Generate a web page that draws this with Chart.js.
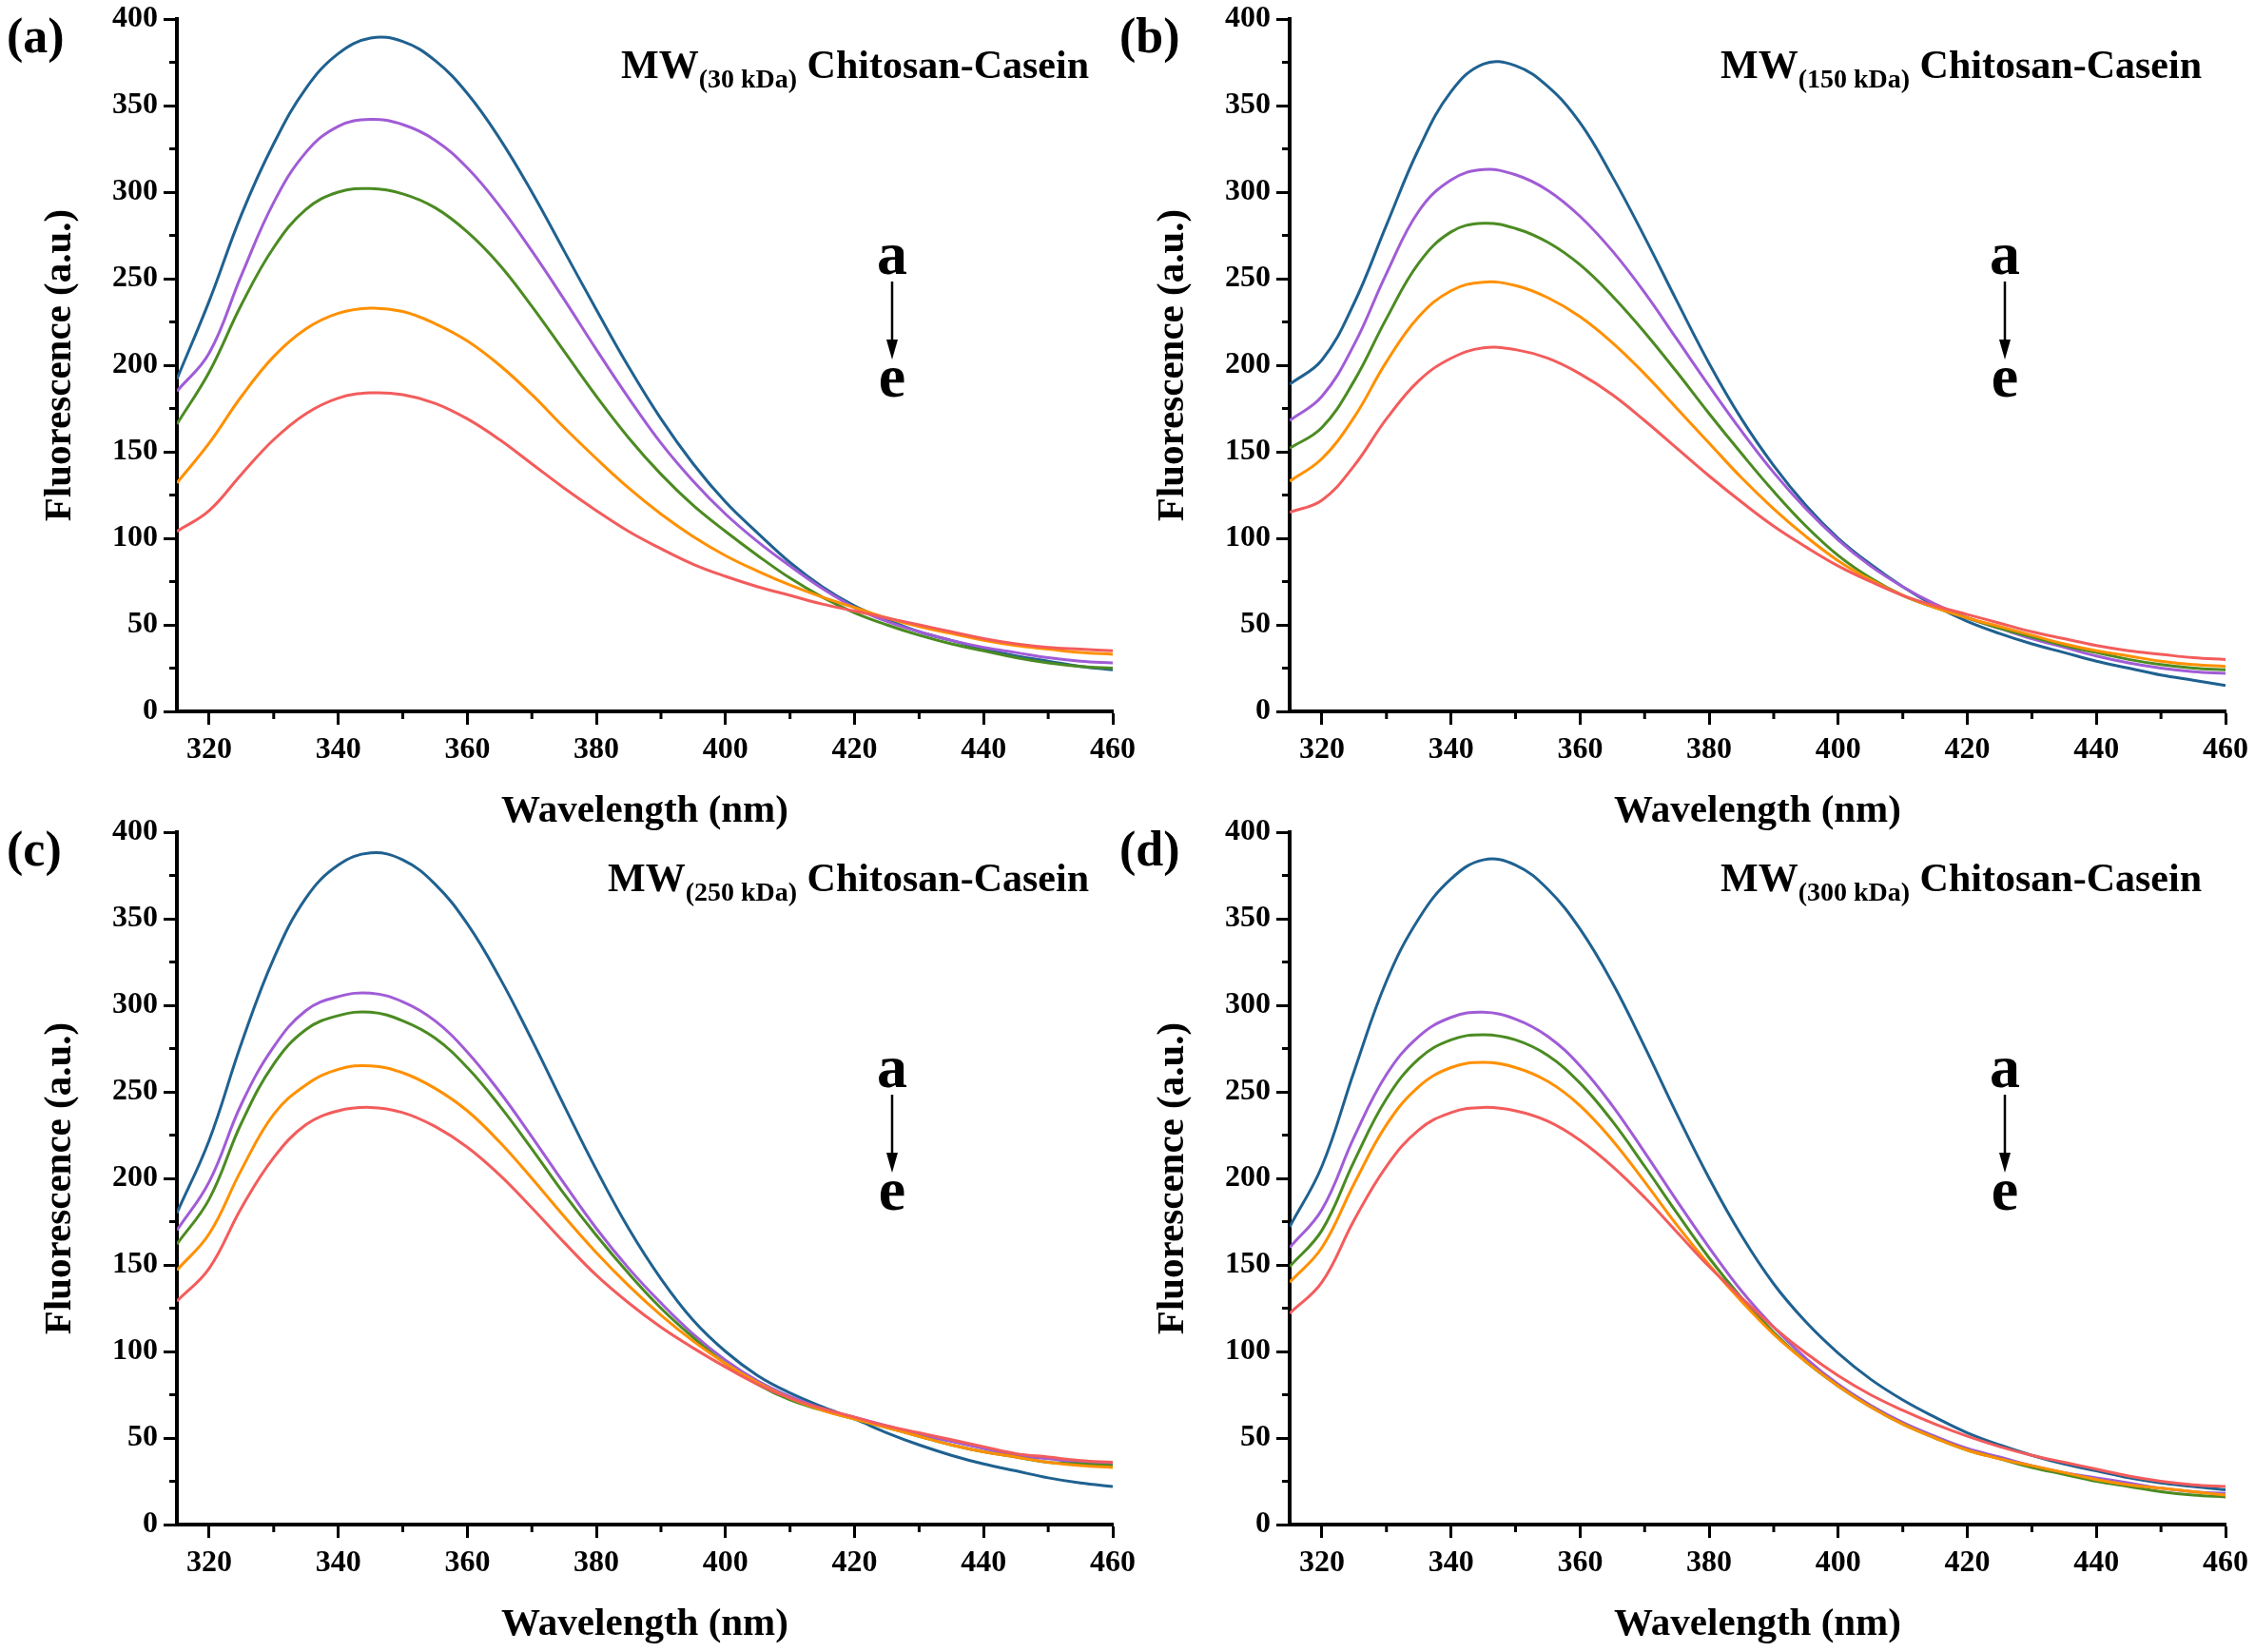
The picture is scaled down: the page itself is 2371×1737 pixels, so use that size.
<!DOCTYPE html>
<html>
<head>
<meta charset="utf-8">
<title>Chitosan-Casein fluorescence</title>
<script src="https://cdn.jsdelivr.net/npm/chart.js@4.4.1/dist/chart.umd.min.js"></script>
<style>
  body { margin: 0; background: #fff; }
  #wrap { position: relative; width: 2371px; height: 1737px; background: #fff; overflow: hidden; }
  .panel { position: absolute; }
</style>
</head>
<body>
<div id="wrap">
  <canvas id="chartA" class="panel" width="1201" height="882" style="left:0;top:0"></canvas>
  <canvas id="chartB" class="panel" width="1201" height="882" style="left:1170px;top:0"></canvas>
  <canvas id="chartC" class="panel" width="1201" height="882" style="left:0;top:855px"></canvas>
  <canvas id="chartD" class="panel" width="1201" height="882" style="left:1170px;top:855px"></canvas>
</div>
<script>
// emission wavelengths (nm), 315 -> 460 every 5 nm
const wavelengths = [315, 320, 325, 330, 335, 340, 345, 350, 355, 360, 365, 370, 375, 380, 385,
                     390, 395, 400, 405, 410, 415, 420, 425, 430, 435, 440, 445, 450, 455, 460];

const xTicks = [320, 340, 360, 380, 400, 420, 440, 460];
const xMinor = [330, 350, 370, 390, 410, 430, 450];
const yTicks = [0, 50, 100, 150, 200, 250, 300, 350, 400];
const yMinor = [25, 75, 125, 175, 225, 275, 325, 375];

const curveNames = ['a', 'b', 'c', 'd', 'e'];
const lineColors = ['#1f6190', '#a05cd6', '#4b8b22', '#ff9000', '#f35c5c'];

// (a) MW 30 kDa
const a30 = [192, 237, 287, 328, 360, 380, 389, 387, 376, 357, 331, 300, 266, 232, 199, 169, 143, 121, 103, 86, 72, 61, 53, 46, 41, 36, 32, 29, 26, 24];
const b30 = [185, 207, 252, 294, 323, 338, 342, 339, 330, 314, 292, 266, 238, 209, 181, 155, 133, 114, 98, 84, 71, 60, 52, 46, 41, 37, 34, 31, 29, 28];
const c30 = [166, 196, 235, 268, 290, 300, 302, 299, 291, 277, 258, 234, 208, 182, 158, 137, 119, 104, 90, 77, 66, 57, 50, 44, 39, 35, 31, 28, 26, 25];
const d30 = [132, 155, 182, 205, 221, 230, 233, 231, 224, 214, 200, 183, 164, 146, 129, 114, 101, 90, 81, 73, 66, 60, 54, 49, 45, 41, 38, 36, 34, 33];
const e30 = [104, 116, 137, 157, 172, 181, 184, 183, 178, 169, 157, 143, 129, 116, 104, 94, 85, 78, 72, 67, 62, 58, 54, 50, 46, 42, 39, 37, 36, 35];

// (b) MW 150 kDa
const a150 = [189, 203, 236, 281, 325, 358, 374, 373, 361, 340, 309, 274, 237, 201, 169, 142, 119, 100, 85, 72, 61, 52, 45, 39, 34, 29, 25, 21, 18, 15];
const b150 = [168, 182, 212, 253, 289, 307, 313, 310, 301, 286, 266, 242, 215, 188, 162, 138, 117, 99, 84, 72, 62, 54, 48, 42, 37, 32, 28, 25, 23, 22];
const c150 = [152, 164, 191, 227, 259, 277, 282, 279, 271, 258, 240, 219, 196, 172, 149, 127, 107, 90, 77, 67, 60, 54, 48, 43, 38, 34, 30, 27, 25, 24];
const d150 = [133, 146, 170, 202, 228, 243, 248, 246, 239, 228, 213, 195, 175, 155, 135, 117, 101, 87, 76, 67, 60, 54, 49, 44, 39, 35, 32, 29, 27, 26];
const e150 = [115, 122, 142, 169, 191, 204, 210, 209, 204, 195, 183, 168, 152, 136, 121, 107, 95, 84, 75, 67, 61, 56, 51, 46, 42, 38, 35, 33, 31, 30];

// (c) MW 250 kDa
const a250 = [180, 222, 278, 327, 362, 381, 388, 384, 370, 347, 316, 280, 242, 205, 171, 142, 118, 100, 86, 76, 68, 61, 53, 46, 40, 35, 31, 27, 24, 22];
const b250 = [170, 198, 243, 276, 297, 305, 307, 302, 291, 273, 250, 224, 197, 171, 148, 128, 110, 95, 83, 74, 67, 62, 57, 52, 48, 44, 40, 38, 36, 35];
const c250 = [162, 188, 232, 266, 286, 294, 296, 291, 281, 264, 242, 217, 191, 167, 145, 125, 108, 93, 81, 72, 66, 61, 56, 51, 46, 42, 39, 36, 35, 34];
const d250 = [147, 168, 205, 237, 254, 263, 265, 261, 252, 239, 221, 200, 178, 157, 138, 121, 106, 93, 82, 73, 66, 61, 56, 51, 46, 42, 39, 36, 34, 33];
const e250 = [129, 148, 183, 212, 231, 239, 241, 238, 230, 218, 202, 183, 163, 144, 128, 114, 102, 91, 81, 73, 67, 62, 57, 53, 49, 45, 41, 39, 37, 36];

// (d) MW 300 kDa
const a300 = [172, 207, 262, 314, 350, 373, 384, 381, 367, 344, 313, 276, 237, 200, 167, 139, 117, 99, 84, 72, 62, 53, 46, 40, 35, 31, 27, 24, 22, 20];
const b300 = [160, 182, 224, 260, 282, 293, 296, 292, 282, 265, 242, 215, 187, 160, 135, 114, 96, 81, 69, 59, 51, 44, 39, 34, 30, 27, 24, 21, 19, 18];
const c300 = [149, 170, 210, 246, 269, 280, 283, 280, 271, 255, 233, 207, 180, 154, 131, 111, 94, 80, 68, 58, 50, 43, 38, 33, 29, 25, 22, 19, 17, 16];
const d300 = [140, 160, 197, 231, 253, 264, 267, 264, 256, 242, 222, 198, 173, 150, 129, 110, 94, 80, 68, 58, 50, 43, 38, 34, 30, 26, 23, 21, 19, 17];
const e300 = [122, 140, 176, 207, 228, 238, 241, 239, 233, 222, 207, 189, 169, 149, 131, 114, 99, 86, 75, 66, 58, 51, 45, 40, 36, 32, 28, 25, 23, 22];

const FONT = "'Liberation Serif', 'Times New Roman', serif";

// minor ticks, panel letter, MW caption and the a -> e arrow
const decor = {
  id: 'decor',
  afterDraw(chart, args, opts) {
    const { ctx, chartArea: area } = chart;
    const x = chart.scales.x, y = chart.scales.y;
    ctx.save();
    ctx.strokeStyle = '#000';
    ctx.lineWidth = 3;
    ctx.beginPath();
    xMinor.forEach(v => {
      const px = x.getPixelForValue(v);
      ctx.moveTo(px, area.bottom);
      ctx.lineTo(px, area.bottom + 8);
    });
    yMinor.forEach(v => {
      const py = y.getPixelForValue(v);
      ctx.moveTo(area.left, py);
      ctx.lineTo(area.left - 8, py);
    });
    ctx.stroke();

    ctx.fillStyle = '#000';
    ctx.textBaseline = 'alphabetic';

    // panel letter
    ctx.textAlign = 'left';
    ctx.font = 'bold 52px ' + FONT;
    ctx.fillText(opts.label, 7, 55);

    // MW(xx kDa) Chitosan-Casein, right aligned
    const big = 'bold 42px ' + FONT;
    const small = 'bold 28px ' + FONT;
    const base = area.top + 62;
    ctx.font = big;
    const w1 = ctx.measureText('MW').width;
    const w3 = ctx.measureText(' Chitosan-Casein').width;
    ctx.font = small;
    const w2 = ctx.measureText(opts.mw).width;
    const tx = area.right - 25 - (w1 + w2 + w3);
    ctx.font = big;
    ctx.fillText('MW', tx, base);
    ctx.font = small;
    ctx.fillText(opts.mw, tx + w1, base + 10);
    ctx.font = big;
    ctx.fillText(' Chitosan-Casein', tx + w1 + w2, base);

    // a -> e
    const cx = area.left + 752;
    ctx.textAlign = 'center';
    ctx.font = 'bold 64px ' + FONT;
    ctx.fillText('a', cx, area.top + 268);
    ctx.fillText('e', cx, area.top + 397);
    ctx.lineWidth = 2.5;
    ctx.beginPath();
    ctx.moveTo(cx, area.top + 276);
    ctx.lineTo(cx, area.top + 340);
    ctx.stroke();
    ctx.beginPath();
    ctx.moveTo(cx - 6, area.top + 337);
    ctx.lineTo(cx + 6, area.top + 337);
    ctx.lineTo(cx, area.top + 358);
    ctx.closePath();
    ctx.fill();
    ctx.restore();
  }
};

function makeChart(id, label, mw, series) {
  return new Chart(document.getElementById(id), {
    type: 'line',
    data: {
      datasets: series.map((vals, i) => ({
        label: curveNames[i],
        data: wavelengths.map((w, k) => ({ x: w, y: vals[k] })),
        borderColor: lineColors[i],
        borderWidth: 3,
        pointRadius: 0,
        fill: false,
        tension: 0.4,
        order: series.length - 1 - i
      }))
    },
    options: {
      responsive: false,
      animation: false,
      layout: { padding: { top: 20, right: 31, left: 0, bottom: 4 } },
      plugins: {
        legend: { display: false },
        tooltip: { enabled: false },
        decor: { label: label, mw: mw }
      },
      scales: {
        x: {
          type: 'linear',
          min: 315,
          max: 460,
          afterBuildTicks: s => { s.ticks = xTicks.map(v => ({ value: v })); },
          afterFit: s => { s.height = 130; s.paddingLeft = 0; s.paddingRight = 0; },
          border: { color: '#000', width: 4 },
          grid: { drawOnChartArea: false, drawTicks: true, tickLength: 14, tickWidth: 3, tickColor: '#000' },
          ticks: { color: '#000', padding: 8, maxRotation: 0, font: { family: FONT, size: 32, weight: 'bold' } },
          title: {
            display: true, text: 'Wavelength (nm)', color: '#000',
            padding: { top: 0, bottom: 0 },
            font: { family: FONT, size: 41, weight: 'bold', lineHeight: 1.2 }
          }
        },
        y: {
          type: 'linear',
          min: 0,
          max: 400,
          afterBuildTicks: s => { s.ticks = yTicks.map(v => ({ value: v })); },
          afterFit: s => { s.width = 186; s.paddingTop = 0; s.paddingBottom = 0; },
          border: { color: '#000', width: 4 },
          grid: { drawOnChartArea: false, drawTicks: true, tickLength: 14, tickWidth: 3, tickColor: '#000' },
          ticks: { color: '#000', padding: 6, font: { family: FONT, size: 32, weight: 'bold' } },
          title: {
            display: true, text: 'Fluorescence (a.u.)', color: '#000',
            padding: { top: 39, bottom: 0 },
            font: { family: FONT, size: 41, weight: 'bold', lineHeight: 1.2 }
          }
        }
      }
    },
    plugins: [decor]
  });
}

makeChart('chartA', '(a)', '(30 kDa)', [a30, b30, c30, d30, e30]);
makeChart('chartB', '(b)', '(150 kDa)', [a150, b150, c150, d150, e150]);
makeChart('chartC', '(c)', '(250 kDa)', [a250, b250, c250, d250, e250]);
makeChart('chartD', '(d)', '(300 kDa)', [a300, b300, c300, d300, e300]);
</script>
</body>
</html>
